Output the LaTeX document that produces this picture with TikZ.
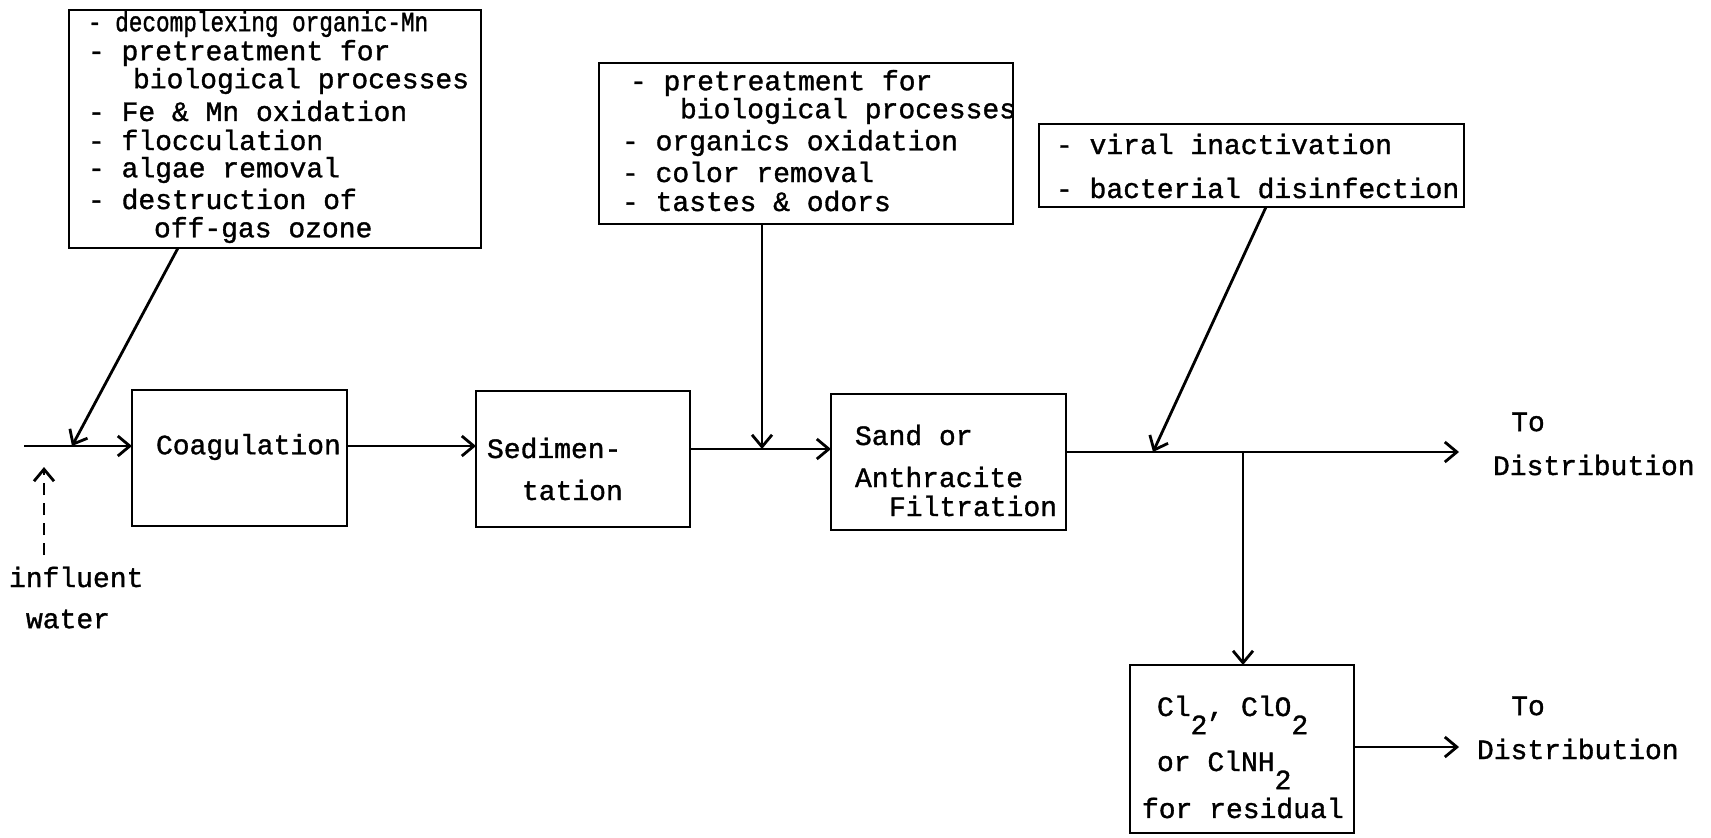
\documentclass[tikz,border=0pt]{standalone}
\usepackage{fontspec}
\setmonofont[FakeBold=1.2]{Liberation Mono}
\newfontfamily\narrowmono[FakeStretch=0.81,FakeBold=1.2]{Liberation Mono}
\usetikzlibrary{arrows.meta}
\newcommand\lowsub[1]{\raisebox{-0.65em}{#1}}
\begin{document}
\begin{tikzpicture}[x=0.5pt,y=-0.5pt,
  every node/.style={inner sep=0pt, outer sep=0pt},
  box/.style={draw, line width=1.4pt, rectangle},
  txt/.style={anchor=west, font=\ttfamily\fontsize{14}{16}\selectfont},
  ctxt/.style={anchor=center, font=\ttfamily\fontsize{14}{16}\selectfont},
  flow/.style={line width=1.4pt, -{Straight Barb[length=6pt,width=10pt,line width=1.4pt]}},
]
\useasboundingbox (0,0) rectangle (1711,837);

% boxes
\node[box, minimum width=206pt, minimum height=119pt] (b1) at (275,129) {};
\node[box, minimum width=207pt, minimum height=80.5pt] (b2) at (806,143.5) {};
\node[box, minimum width=212.5pt, minimum height=41.5pt] (b3) at (1251.5,165.5) {};
\node[box, minimum width=107.5pt, minimum height=68pt] (coag) at (239.5,458) {};
\node[box, minimum width=107pt, minimum height=68pt] (sed) at (583,459) {};
\node[box, minimum width=117.5pt, minimum height=68pt] (sand) at (948.5,462) {};
\node[box, minimum width=112pt, minimum height=84pt] (cl) at (1242,749) {};

% box 1 text
\node[txt, font=\narrowmono\fontsize{14}{16}\selectfont] (t11) at (88,24) {- decomplexing organic-Mn};
\node[txt] (t12) at (88,53) {- pretreatment for};
\node[txt] (t13) at (133,81) {biological processes};
\node[txt] (t14) at (88,111) {- Fe \& Mn oxidation};
\node[txt] (t15) at (88,140) {- flocculation};
\node[txt] (t16) at (88,170) {- algae removal};
\node[txt] (t17) at (88,199) {- destruction of};
\node[txt] (t18) at (154,230) {off-gas ozone};

% box 2 text
\node[txt] (t21) at (630,83) {- pretreatment for};
\node[txt] (t22) at (680,111) {biological processes};
\node[txt] (t23) at (622,143) {- organics oxidation};
\node[txt] (t24) at (622,172) {- color removal};
\node[txt] (t25) at (622,201) {- tastes \& odors};

% box 3 text
\node[txt] (t31) at (1056,144) {- viral inactivation};
\node[txt] (t32) at (1056,188) {- bacterial disinfection};

% process texts
\node[txt] (tc) at (156,447) {Coagulation};
\node[txt] (ts1) at (487,448) {Sedimen-};
\node[txt] (ts2) at (522,490) {tation};
\node[txt] (tf1) at (855,435) {Sand or};
\node[txt] (tf2) at (855,477) {Anthracite};
\node[txt] (tf3) at (889,506) {Filtration};
\node[txt, anchor=base west] (tl1) at (1157,716) {Cl\lowsub{2}, ClO\lowsub{2}};
\node[txt, anchor=base west] (tl2) at (1157,771) {or ClNH\lowsub{2}};
\node[txt] (tl3) at (1142,808) {for residual};

% outside labels
\node[ctxt] (to1) at (1528,422) {To};
\node[txt] (di1) at (1493,465) {Distribution};
\node[ctxt] (to2) at (1528,706) {To};
\node[txt] (di2) at (1477,749) {Distribution};
\node[txt] (inf) at (9,577) {influent};
\node[txt] (wat) at (26,619) {water};

% coordinates
\coordinate (start) at (24,446);
\coordinate (j1) at (72,446);
\coordinate (d0) at (44,555);
\coordinate (d1) at (44,467);
\coordinate (b1out) at (178,248);
\coordinate (j2) at (762,449);
\coordinate (b3out) at (1266,207);
\coordinate (j3) at (1153,452);
\coordinate (br) at (1243,452);
\coordinate (out1) at (1459,452);
\coordinate (out2) at (1459,747);

% connectors
\draw[flow] (start) -- (coag.west |- start);
\draw[flow] (b1out) -- (j1);
\draw[flow, dash pattern=on 6pt off 4pt] (d0) -- (d1);
\draw[flow] (coag.east |- start) -- (sed.west |- start);
\draw[flow] (sed.east |- j2) -- (sand.west |- j2);
\draw[flow] (b2.south -| j2) -- (j2);
\draw[flow] (sand.east |- j3) -- (out1);
\draw[flow] (b3out) -- (j3);
\draw[flow] (br) -- (cl.north -| br);
\draw[flow] (cl.east |- out2) -- (out2);
\end{tikzpicture}
\end{document}
